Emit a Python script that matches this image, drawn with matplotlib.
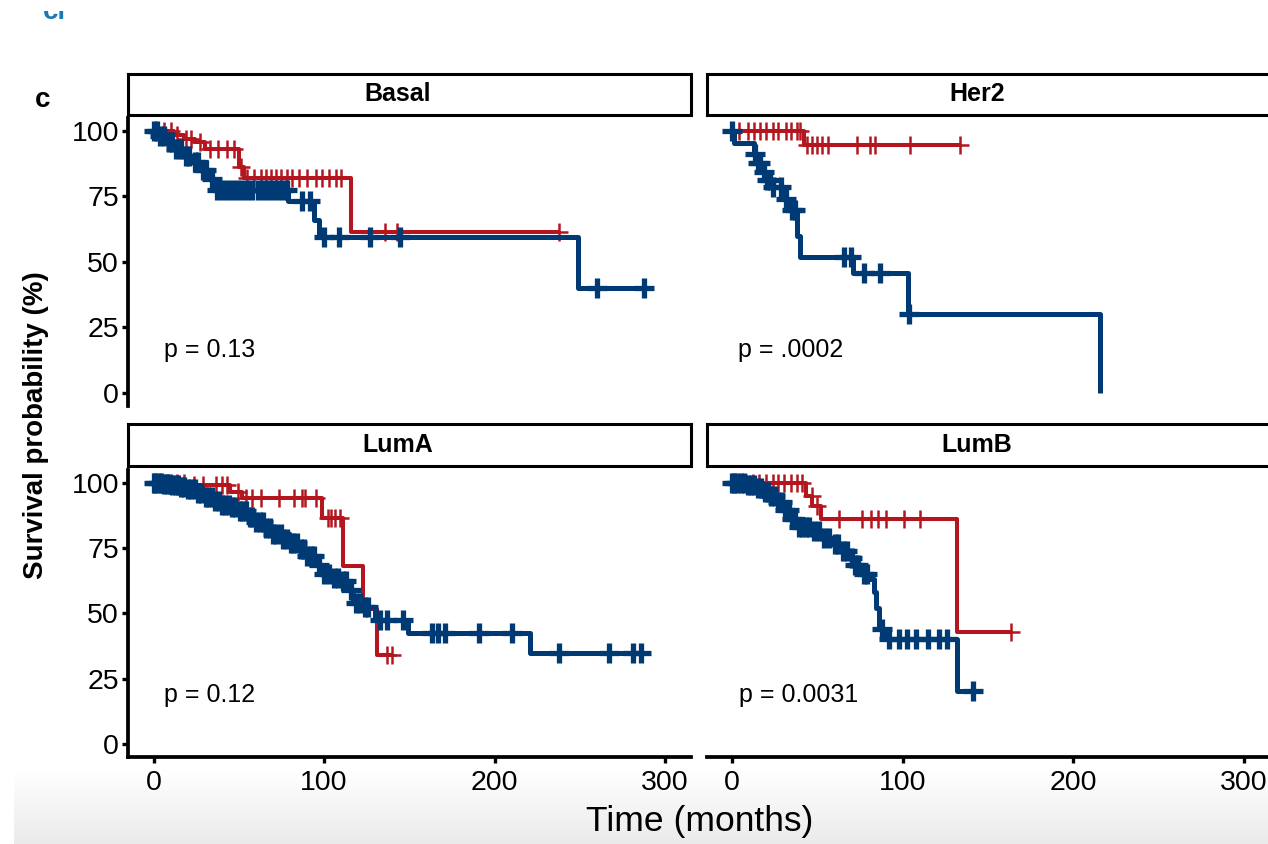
import numpy as np
import matplotlib
matplotlib.use("Agg")
import matplotlib.pyplot as plt
from matplotlib.transforms import Bbox

plt.rcParams['font.family'] = ['Liberation Sans', 'DejaVu Sans']

# ---------------- data ----------------
panel_names = ["Basal", "Her2", "LumA", "LumB"]
p_labels = ["p = 0.13", "p = .0002", "p = 0.12", "p = 0.0031"]

# Basal
basal_red_time = [0, 12, 18, 24, 30, 50, 53, 116]
basal_red_surv = [100, 98.5, 97, 95.5, 93, 86, 82, 61.5]
basal_red_end = 238
basal_red_cens = [2, 6, 10, 14, 19, 22, 27, 33, 38, 43, 47, 51, 55, 59, 63, 66, 69, 72, 75,
                  78, 81, 85, 90, 95, 99, 103, 107, 110, 136, 143, 238]
basal_blue_time = [0, 3, 8, 13, 18, 23, 28, 32, 35, 79, 94, 97, 249]
basal_blue_surv = [100, 98, 95.5, 93, 90.5, 88, 85, 81.5, 77.5, 73, 66, 59.5, 40]
basal_blue_end = 287.5
basal_blue_cens = [0, 2, 4, 6, 9, 11, 13, 16, 19, 21, 24, 26, 29, 31, 34, 37, 40, 43, 46, 49,
                   52, 55, 58, 61, 64, 67, 70, 73, 76, 78, 87, 92, 100, 108.5, 127, 144.5,
                   260, 287.5]

# Her2
her2_red_time = [0, 42]
her2_red_surv = [100, 94.5]
her2_red_end = 133.6
her2_red_cens = [0.5, 4, 9, 13, 16.5, 20, 24, 27, 31.5, 34.5, 38, 40, 44, 46.5, 49.5, 52.5,
                 56, 73, 80.5, 83.5, 104, 133.6]
her2_blue_time = [0, 1, 13, 15, 17.5, 20, 23, 31, 34, 38, 40, 71, 103, 215.6]
her2_blue_surv = [100, 95.2, 91, 87.5, 84.4, 81.2, 78.6, 74, 69.7, 60, 51.9, 45.8, 30, 0]
her2_blue_end = 215.6
her2_blue_cens = [0, 13.5, 15, 16.5, 18.5, 20.5, 22, 24, 28.5, 31.5, 35, 37, 65.5, 69.5,
                  77, 86.5, 103.5]

# LumA
luma_red_time = [0, 22, 45, 52, 99, 111, 123, 131]
luma_red_surv = [100, 99, 96.5, 94, 86.4, 68, 51.6, 34.2]
luma_red_end = 140
luma_red_cens = [8, 14, 18, 23.5, 29, 36.5, 40, 43, 49.5, 54, 57.5, 63, 73.5, 82.5, 87, 89,
                 95.5, 102, 104, 106.5, 109.5, 137, 140]
luma_blue_time = [0, 5, 10, 15, 20, 25, 30, 35, 40, 45, 50, 55, 60, 65, 70, 75, 80, 85, 90,
                  95, 100, 105, 110, 114, 117, 122, 130, 149, 221]
luma_blue_surv = [100, 99.5, 99, 98.5, 97.5, 96, 94.5, 93, 91.5, 90.5, 89, 87, 85, 82.5,
                  80.5, 78.5, 77, 74.5, 72, 68.5, 65, 63.5, 62.5, 59, 54, 52.5, 47.5, 42.5, 35]
luma_blue_end = 286
luma_blue_cens = [0, 1, 3, 4.5, 6, 8, 9.5, 11, 13, 14.5, 16, 18, 20, 22, 24.5, 26, 28, 30.5,
                  32, 34, 36, 38.5, 40, 42, 44.5, 46, 48, 50.5, 52, 54, 56.5, 58, 60, 62.5,
                  64, 66, 68.5, 70, 72, 74.5, 76, 78, 80.5, 82, 84, 86.5, 88, 90, 92.5, 94,
                  97, 100, 103, 106, 108, 111, 113, 116, 119, 121, 124, 126, 133, 137, 146,
                  163, 167, 171, 191, 210, 238, 267, 281, 286]

# LumB
lumb_red_time = [0, 43, 47, 52, 131.5]
lumb_red_surv = [100, 95, 91, 86, 42.8]
lumb_red_end = 163.5
lumb_red_cens = [3, 8, 12, 15.5, 19.5, 24, 27, 30.5, 34.5, 38, 41, 46.5, 49.5, 62.5, 76,
                 81.5, 85.5, 90, 100.5, 110, 163.5]
lumb_blue_time = [0, 8, 14, 19, 23, 27, 31, 35, 39, 46, 52, 58, 63, 68, 72, 75, 80, 83,
                  84.5, 86, 91, 131.5]
lumb_blue_surv = [100, 99, 98, 96.5, 95, 92.5, 89.5, 86, 83, 81.5, 79, 76.5, 74, 71, 68.5,
                  65, 63, 58, 52, 44, 40, 20.2]
lumb_blue_end = 141
lumb_blue_cens = [0, 1, 3, 5, 7, 9, 11, 13, 15, 17, 19, 21, 23, 25, 27, 29, 31, 33, 35, 37,
                  39, 41, 43, 45, 48, 51, 54, 57, 60, 62, 65, 67, 70, 72, 74, 77, 79, 88, 92,
                  97.5, 102.5, 108, 114.5, 121, 126, 141]

x_ticks = [0, 100, 200, 300]
y_ticks = [0, 25, 50, 75, 100]

RED = "#B3161F"
BLUE = "#003A75"

groups = {
    "Basal": [(basal_red_time, basal_red_surv, basal_red_end, basal_red_cens),
              (basal_blue_time, basal_blue_surv, basal_blue_end, basal_blue_cens)],
    "Her2": [(her2_red_time, her2_red_surv, her2_red_end, her2_red_cens),
             (her2_blue_time, her2_blue_surv, her2_blue_end, her2_blue_cens)],
    "LumA": [(luma_red_time, luma_red_surv, luma_red_end, luma_red_cens),
             (luma_blue_time, luma_blue_surv, luma_blue_end, luma_blue_cens)],
    "LumB": [(lumb_red_time, lumb_red_surv, lumb_red_end, lumb_red_cens),
             (lumb_blue_time, lumb_blue_surv, lumb_blue_end, lumb_blue_cens)],
}

# ---------------- layout ----------------
W, H = 1268, 844
fig = plt.figure(figsize=(W / 100, H / 100), dpi=100)
fig.patch.set_facecolor("white")

# light grey band at the bottom (screenshot background)
band = fig.add_axes([14 / W, 0, 1 - 14 / W, 74 / H], zorder=-5)
grad = np.linspace(1.0, 0.92, 100).reshape(-1, 1)
band.imshow(np.dstack([grad, grad, grad]), aspect="auto", extent=[0, 1, 0, 1],
            origin="upper")
band.axis("off")

col_x0 = [128, 706.7]
col_w = 562.7
row_tb = [(117.6, 405.8), (469.6, 757.1)]
strip_tb = [(74.3, 114.5), (424.0, 466.0)]
p_pos = [(6.2, 13.7), (3.3, 13.7), (6.2, 16.2), (3.7, 16.2)]


def surv_at(times, surv, t):
    idx = np.searchsorted(np.asarray(times), t, side="right") - 1
    return np.asarray(surv)[idx]


for i, name in enumerate(panel_names):
    r, c = divmod(i, 2)
    top, bot = row_tb[r]
    x0 = col_x0[c]
    ax = fig.add_axes([x0 / W, 1 - bot / H, col_w / W, (bot - top) / H])
    ax.set_xlim(-15, 315)
    ax.set_ylim(-5, 105)
    for s in ["top", "right"]:
        ax.spines[s].set_visible(False)
    ax.spines["left"].set_visible(c == 0)
    ax.spines["bottom"].set_visible(r == 1)
    for s in ["left", "bottom"]:
        ax.spines[s].set_linewidth(2.7)
    ax.set_xticks(x_ticks)
    ax.set_yticks(y_ticks)
    ax.tick_params(axis="y", direction="out", length=4, width=2.4, labelsize=20.5, pad=2.5,
                   left=(c == 0), labelleft=(c == 0))
    ax.tick_params(axis="x", direction="out", length=4, width=2.4, labelsize=20.5, pad=5.5,
                   bottom=(r == 1), labelbottom=(r == 1))

    for (times, surv, end, cens), color, lw, ms, mew, z in [
            (groups[name][0], RED, 2.9, 12.5, 1.8, 3),
            (groups[name][1], BLUE, 3.6, 15, 3.8, 4)]:
        ts = list(times) + [end]
        ss = list(surv) + [surv[-1]]
        ax.step(ts, ss, where="post", color=color, lw=lw, zorder=z,
                solid_capstyle="butt")
        cy = [surv_at(times, surv, t) for t in cens]
        ax.plot(cens, cy, ls="none", marker="+", ms=ms, mew=mew, color=color,
                zorder=z, clip_on=False)

    ax.text(p_pos[i][0], p_pos[i][1], p_labels[i], fontsize=18, ha="left",
            va="baseline", color="black")

    # strip
    st, sb = strip_tb[r]
    sax = fig.add_axes([x0 / W, 1 - sb / H, col_w / W, (sb - st) / H])
    sax.set_xticks([])
    sax.set_yticks([])
    for s in sax.spines.values():
        s.set_linewidth(2.2)
        s.set_color("black")
    sax.text(0.48, 0.5, name, transform=sax.transAxes, ha="center", va="center",
             fontsize=18, fontweight="bold")

# axis titles
fig.text(36 / W, 1 - 425 / H, "Survival probability (%)", rotation=90, ha="center",
         va="center", fontsize=20, fontweight="bold")
fig.text(700 / W, 1 - 831.5 / H, "Time (months)", ha="center", va="baseline",
         fontsize=25.5)

# panel tag
fig.text(42.5 / W, 1 - 100 / H, "c", ha="center", va="center", fontsize=20,
         fontweight="bold")

# clipped fragment of text from above the crop
frag = fig.text(43 / W, 1 - 19 / H, "cl", ha="left", va="baseline", fontsize=20,
                fontweight="bold", color="#1E78B8")
frag.set_clip_box(Bbox.from_extents(0, H - 19.5, W, H - 11))
frag.set_clip_on(True)

fig.savefig("out.png", dpi=100)
